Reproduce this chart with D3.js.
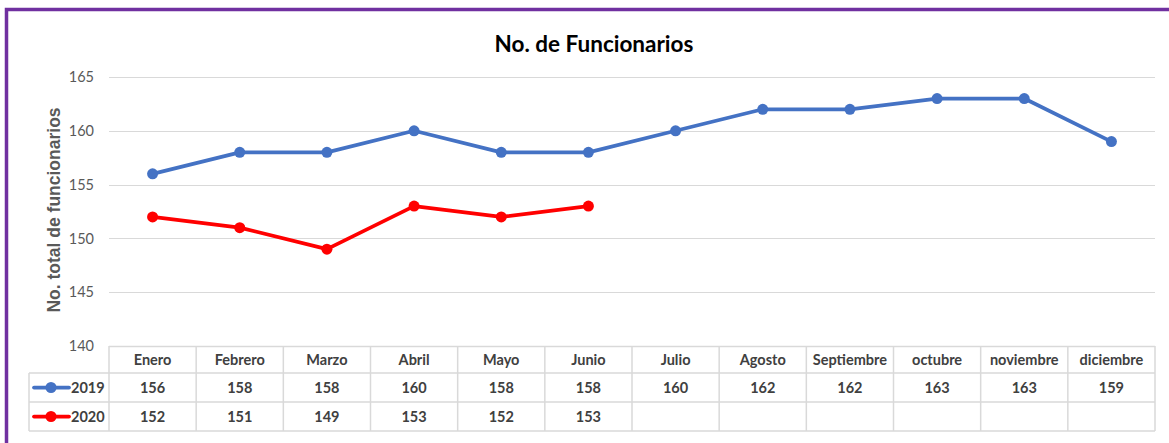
<!DOCTYPE html>
<html>
<head>
<meta charset="utf-8">
<script src="https://cdn.jsdelivr.net/npm/d3@7"></script>
<style>
  body { margin: 0; background: #fff; }
  svg { display: block; font-family: Lato, "Liberation Sans", sans-serif; }
</style>
</head>
<body>
<div id="chart"></div>
<script>
const months = ["Enero", "Febrero", "Marzo", "Abril", "Mayo", "Junio", "Julio",
  "Agosto", "Septiembre", "octubre", "noviembre", "diciembre"];
const values2019 = [156, 158, 158, 160, 158, 158, 160, 162, 162, 163, 163, 159];
const values2020 = [152, 151, 149, 153, 152, 153];
const yTicks = [140, 145, 150, 155, 160, 165];

const series = [
  {name: "2019", values: values2019, color: "#4472C4"},
  {name: "2020", values: values2020, color: "#FF0000"}
];

const W = 1169, H = 443;
const MARGIN = {LEFT: 109, RIGHT: 14, TOP: 77, BOTTOM: 97};
const plotW = W - MARGIN.LEFT - MARGIN.RIGHT;
const plotH = H - MARGIN.TOP - MARGIN.BOTTOM;

const svg = d3.select("#chart").append("svg")
  .attr("width", W)
  .attr("height", H);

// purple frame
svg.append("rect")
  .attr("x", 6.5).attr("y", 9.5)
  .attr("width", W + 10).attr("height", H + 10)
  .attr("fill", "none")
  .attr("stroke", "#7030A0")
  .attr("stroke-width", 3.5);

svg.append("text")
  .attr("x", 594).attr("y", 52)
  .attr("text-anchor", "middle")
  .attr("font-size", 22.5)
  .attr("font-weight", "bold")
  .attr("fill", "#000")
  .text("No. de Funcionarios");

const g = svg.append("g")
  .attr("transform", `translate(${MARGIN.LEFT}, ${MARGIN.TOP})`);

const x = d3.scaleBand().domain(months).range([0, plotW]);
const y = d3.scaleLinear().domain([140, 165]).range([plotH, 0]);

// gridlines
g.append("g").selectAll("line")
  .data(yTicks.filter(d => d !== 140))
  .enter().append("line")
  .attr("x1", 0).attr("x2", plotW)
  .attr("y1", d => Math.round(y(d)) + 0.5)
  .attr("y2", d => Math.round(y(d)) + 0.5)
  .attr("stroke", "#d9d9d9")
  .attr("stroke-width", 1);

// y axis labels
const yAxis = g.append("g")
  .call(d3.axisLeft(y).tickValues(yTicks).tickSize(0).tickPadding(0).tickFormat(d3.format("d")));
yAxis.select(".domain").remove();
yAxis.selectAll("text")
  .attr("x", -15)
  .attr("font-size", 14.5)
  .attr("font-family", "Lato, 'Liberation Sans', sans-serif")
  .attr("fill", "#595959");

svg.append("text")
  .attr("transform", `translate(60, 210) rotate(-90)`)
  .attr("text-anchor", "middle")
  .attr("font-family", "'Liberation Sans', Arial, sans-serif")
  .attr("font-size", 17.5)
  .attr("font-weight", "bold")
  .attr("fill", "#595959")
  .text("No. total de funcionarios");

// lines
const line = d3.line()
  .x((d, i) => x(months[i]) + x.bandwidth() / 2)
  .y(d => y(d));

series.forEach(s => {
  g.append("path")
    .datum(s.values)
    .attr("d", line)
    .attr("fill", "none")
    .attr("stroke", s.color)
    .attr("stroke-width", 3.75)
    .attr("stroke-linejoin", "round");
  g.selectAll(null)
    .data(s.values)
    .enter().append("circle")
    .attr("cx", (d, i) => x(months[i]) + x.bandwidth() / 2)
    .attr("cy", d => y(d))
    .attr("r", 5.5)
    .attr("fill", s.color);
});

// data table
const rowH = [27, 29, 29];
const tableTop = plotH;
const legendLeft = 29 - MARGIN.LEFT;
const tbl = g.append("g").attr("transform", `translate(0, ${tableTop})`);
const gridColor = "#d9d9d9";
const rowY = [0, rowH[0], rowH[0] + rowH[1], rowH[0] + rowH[1] + rowH[2]];

// horizontal rules
tbl.append("line").attr("x1", 0).attr("x2", plotW).attr("y1", 0.5).attr("y2", 0.5)
  .attr("stroke", gridColor).attr("stroke-width", 1.5);
[1, 2, 3].forEach(r => {
  tbl.append("line")
    .attr("x1", legendLeft).attr("x2", plotW)
    .attr("y1", rowY[r]).attr("y2", rowY[r])
    .attr("stroke", gridColor).attr("stroke-width", 1.5);
});
// vertical rules
tbl.append("line").attr("x1", legendLeft).attr("x2", legendLeft)
  .attr("y1", rowY[1]).attr("y2", rowY[3]).attr("stroke", gridColor).attr("stroke-width", 1.5);
months.concat(["end"]).forEach((m, i) => {
  const xx = i * x.bandwidth();
  tbl.append("line").attr("x1", xx).attr("x2", xx)
    .attr("y1", 0).attr("y2", rowY[3])
    .attr("stroke", gridColor).attr("stroke-width", 1.5);
});

tbl.selectAll(".month")
  .data(months)
  .enter().append("text")
  .attr("class", "month")
  .attr("x", d => x(d) + x.bandwidth() / 2)
  .attr("y", rowY[0] + rowH[0] / 2 + 5)
  .attr("text-anchor", "middle")
  .attr("font-size", 14.5)
  .attr("font-weight", "bold")
  .attr("fill", "#404040")
  .text(d => d);

series.forEach((s, r) => {
  const cy = rowY[r + 1] + rowH[r + 1] / 2;
  tbl.selectAll(null)
    .data(s.values)
    .enter().append("text")
    .attr("x", (d, i) => x(months[i]) + x.bandwidth() / 2)
    .attr("y", cy + 5)
    .attr("text-anchor", "middle")
    .attr("font-size", 14.5)
    .attr("font-weight", "bold")
    .attr("fill", "#404040")
    .text(d => d);
  // legend key
  tbl.append("line")
    .attr("x1", legendLeft + 5).attr("x2", legendLeft + 40)
    .attr("y1", cy).attr("y2", cy)
    .attr("stroke", s.color).attr("stroke-width", 3.75)
    .attr("stroke-linecap", "round");
  tbl.append("circle")
    .attr("cx", legendLeft + 22).attr("cy", cy).attr("r", 5.5)
    .attr("fill", s.color);
  tbl.append("text")
    .attr("x", legendLeft + 42).attr("y", cy + 5)
    .attr("font-size", 14.5)
    .attr("font-weight", "bold")
    .attr("fill", "#404040")
    .text(s.name);
});
</script>
</body>
</html>
